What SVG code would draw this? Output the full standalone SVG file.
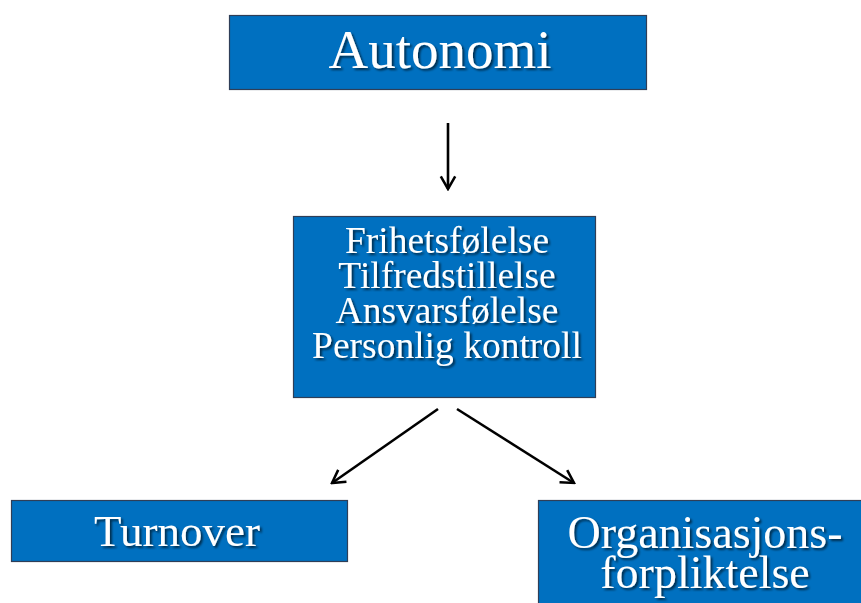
<svg xmlns="http://www.w3.org/2000/svg" width="861" height="603" viewBox="0 0 861 603">
<style>
.box{fill:#0070C0;stroke:#2F3E57;stroke-width:1.2}
.t{font-family:"Liberation Serif","Times New Roman",serif;fill:#ffffff;text-anchor:middle;filter:url(#sh)}
.c{stroke:#000;stroke-width:2.6;fill:none;marker-end:url(#ah)}
</style>
<defs>
<filter id="sh" x="-10%" y="-20%" width="120%" height="150%">
<feDropShadow dx="2" dy="2" stdDeviation="1.2" flood-color="#000" flood-opacity="0.6"/>
</filter>
<marker id="ah" viewBox="0 0 20 20" refX="18" refY="10" markerWidth="18" markerHeight="18" markerUnits="userSpaceOnUse" orient="auto">
<path d="M4,2 L18,10 L4,18" fill="none" stroke="#000" stroke-width="2.8" stroke-linejoin="miter"/>
</marker>
</defs>
<rect width="861" height="603" fill="#ffffff"/>
<g id="autonomi">
<rect class="box" x="229.5" y="15.5" width="417" height="74"/>
<text class="t" x="440" y="68" font-size="55">Autonomi</text>
</g>
<g id="mid">
<rect class="box" x="293.5" y="216.5" width="302" height="181"/>
<text class="t" font-size="37.5"><tspan x="447" y="253">Frihetsfølelse</tspan><tspan x="447" y="288">Tilfredstillelse</tspan><tspan x="447" y="323">Ansvarsfølelse</tspan><tspan x="447" y="358">Personlig kontroll</tspan></text>
</g>
<g id="turnover">
<rect class="box" x="11.5" y="500.5" width="336" height="61"/>
<text class="t" x="177" y="546" font-size="45">Turnover</text>
</g>
<g id="org">
<rect class="box" x="538.5" y="500.5" width="340" height="110"/>
<text class="t" font-size="46"><tspan x="705" y="548">Organisasjons-</tspan><tspan x="705" y="588">forpliktelse</tspan></text>
</g>
<g id="connectors">
<line class="c" x1="448" y1="123" x2="448" y2="189"/>
<line class="c" x1="438" y1="409" x2="332" y2="483"/>
<line class="c" x1="457" y1="409" x2="574" y2="483"/>
</g>
</svg>
